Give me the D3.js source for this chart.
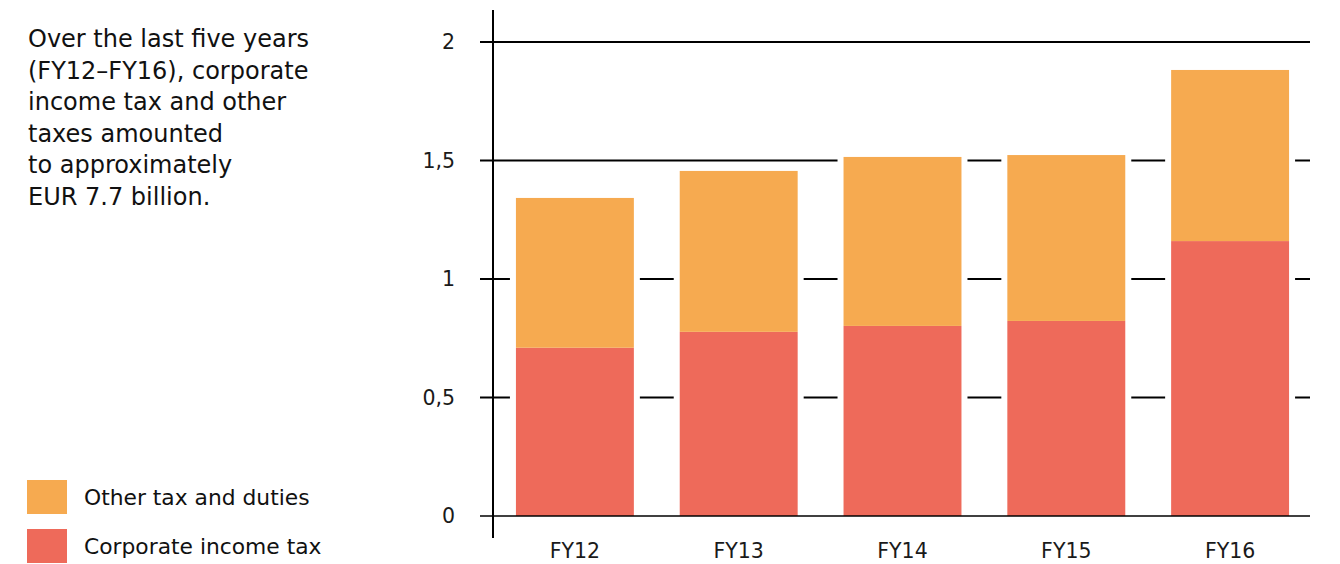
<!DOCTYPE html>
<html>
<head>
<meta charset="utf-8">
<script src="https://cdn.jsdelivr.net/npm/d3@7"></script>
<style>
  body { margin: 0; background: #fff; }
  svg { display: block; font-family: "DejaVu Sans", Verdana, sans-serif; }
</style>
</head>
<body>
<svg id="chart" width="1340" height="564"></svg>
<script>
// data, EUR billion
const years = ['FY12', 'FY13', 'FY14', 'FY15', 'FY16'];
const corporateTax = [0.71, 0.777, 0.802, 0.823, 1.16];
const otherTax = [0.632, 0.679, 0.713, 0.700, 0.722];
const yTicks = [0, 0.5, 1, 1.5, 2];
const yTickLabels = ['0', '0,5', '1', '1,5', '2'];
const seriesNames = ['Other tax and duties', 'Corporate income tax'];
const introLines = [
  'Over the last five years',
  '(FY12\u2013FY16), corporate',
  'income tax and other',
  'taxes amounted',
  'to approximately',
  'EUR 7.7 billion.'
];

const ORANGE = '#f6aa50';
const RED = '#ee6a5a';

const svg = d3.select('#chart');

const x = d3.scaleBand().domain(years).range([493, 1312]).paddingInner(0.28).paddingOuter(0.14);
const y = d3.scaleLinear().domain([0, 2]).range([516, 42]);

const rows = years.map((yr, i) => ({ year: yr, corp: corporateTax[i], other: otherTax[i] }));
const stack = d3.stack().keys(['corp', 'other'])(rows);

// gridlines
svg.append('g').selectAll('line')
  .data(yTicks.filter(t => t > 0))
  .join('line')
  .attr('x1', 480).attr('x2', 1310)
  .attr('y1', d => y(d)).attr('y2', d => y(d))
  .attr('stroke', '#000').attr('stroke-width', 2);

// white knock-out behind each bar so gridlines break around it
svg.append('g').selectAll('rect')
  .data(rows)
  .join('rect')
  .attr('x', d => x(d.year) - 6)
  .attr('width', x.bandwidth() + 12)
  .attr('y', d => y(d.corp + d.other) - 6)
  .attr('height', d => y(0) - y(d.corp + d.other) + 6)
  .attr('fill', '#fff');

// stacked bars
const colors = { corp: RED, other: ORANGE };
svg.append('g').selectAll('g')
  .data(stack)
  .join('g')
  .attr('fill', s => colors[s.key])
  .selectAll('rect')
  .data(s => s)
  .join('rect')
  .attr('x', d => x(d.data.year))
  .attr('width', x.bandwidth())
  .attr('y', d => y(d[1]))
  .attr('height', d => y(d[0]) - y(d[1]));

// baseline + vertical axis
svg.append('line')
  .attr('x1', 480).attr('x2', 1310).attr('y1', y(0)).attr('y2', y(0))
  .attr('stroke', '#000').attr('stroke-width', 1.5);
svg.append('line')
  .attr('x1', 493).attr('x2', 493).attr('y1', 10).attr('y2', 538)
  .attr('stroke', '#000').attr('stroke-width', 2);

// y tick labels
svg.append('g').selectAll('text')
  .data(yTicks)
  .join('text')
  .attr('x', 455)
  .attr('y', d => y(d))
  .attr('dy', '0.35em')
  .attr('text-anchor', 'end')
  .attr('font-size', 20.5)
  .attr('fill', '#1a1a1a')
  .text((d, i) => yTickLabels[i]);

// x labels
svg.append('g').selectAll('text')
  .data(years)
  .join('text')
  .attr('x', d => x(d) + x.bandwidth() / 2)
  .attr('y', 551)
  .attr('dy', '0.35em')
  .attr('text-anchor', 'middle')
  .attr('font-size', 20.5)
  .attr('fill', '#1a1a1a')
  .text(d => d);

// intro text
svg.append('text')
  .attr('x', 28).attr('y', 47)
  .attr('font-size', 24)
  .attr('fill', '#111')
  .selectAll('tspan')
  .data(introLines)
  .join('tspan')
  .attr('x', 28)
  .attr('dy', (d, i) => i === 0 ? 0 : 31.6)
  .text(d => d);

// legend
const legend = svg.append('g').selectAll('g')
  .data(seriesNames)
  .join('g')
  .attr('transform', (d, i) => `translate(27,${480 + i * 49})`);
legend.append('rect')
  .attr('width', 40).attr('height', 34)
  .attr('fill', (d, i) => i === 0 ? ORANGE : RED);
legend.append('text')
  .attr('x', 57).attr('y', 17).attr('dy', '0.35em')
  .attr('font-size', 21.8)
  .attr('fill', '#111')
  .text(d => d);
</script>
</body>
</html>
